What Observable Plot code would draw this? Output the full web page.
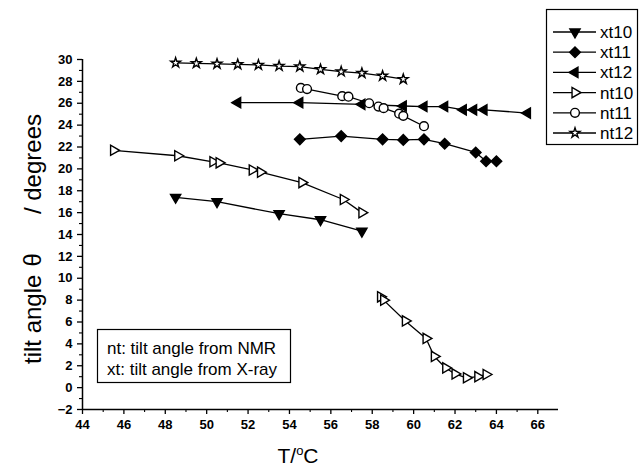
<!DOCTYPE html>
<html><head><meta charset="utf-8">
<script src="https://cdn.jsdelivr.net/npm/d3@7"></script>
<script src="https://cdn.jsdelivr.net/npm/@observablehq/plot@0.6"></script>
<style>body{margin:0;background:#fff} #chart{width:640px;height:470px}</style>
</head><body><div id="chart"></div>
<script>
// ---- data (T in °C, tilt angle in degrees) ----
const xt10_T = [48.5, 50.5, 53.5, 55.5, 57.5];
const xt10_A = [17.4, 17.0, 15.9, 15.35, 14.3];
const xt11_T = [54.5, 56.5, 58.5, 59.5, 60.5, 61.5, 63.0, 63.5, 64.0];
const xt11_A = [22.7, 23.0, 22.7, 22.65, 22.7, 22.3, 21.5, 20.7, 20.7];
const xt12_T = [51.5, 54.5, 57.5, 59.5, 60.5, 61.5, 62.4, 62.9, 63.4, 65.5];
const xt12_A = [26.05, 26.05, 25.9, 25.75, 25.7, 25.7, 25.4, 25.4, 25.4, 25.1];
const nt10_T = [45.5, 48.6, 50.3, 50.6, 52.2, 52.6, 54.6, 56.6, 57.5, 58.4, 58.55, 59.6, 60.6, 61.0, 61.55, 62.0, 62.55, 63.1, 63.5];
const nt10_A = [21.7, 21.2, 20.65, 20.55, 19.9, 19.7, 18.75, 17.2, 16.0, 8.3, 8.0, 6.1, 4.5, 2.85, 1.8, 1.25, 0.9, 1.0, 1.2];
const nt10_seg = [1,1,1,1,1,1,1,1,1,2,2,2,2,2,2,2,2,2,2];
const nt11_T = [54.55, 54.85, 56.55, 56.85, 57.85, 58.3, 58.55, 59.3, 59.5, 60.5];
const nt11_A = [27.4, 27.3, 26.65, 26.6, 26.0, 25.7, 25.55, 25.05, 24.85, 23.9];
const nt12_T = [48.5, 49.5, 50.5, 51.5, 52.5, 53.5, 54.5, 55.5, 56.5, 57.5, 58.5, 59.5];
const nt12_A = [29.7, 29.65, 29.6, 29.55, 29.5, 29.4, 29.35, 29.1, 28.9, 28.75, 28.5, 28.2];

const seriesNames = ["xt10", "xt11", "xt12", "nt10", "nt11", "nt12"];
const xTicks = d3.range(44, 67, 2);
const xMinor = d3.range(45, 67, 2);
const yTicks = d3.range(-2, 31, 2);
const yMinor = d3.range(-1, 30, 2);
const noteLines = ["nt: tilt angle from NMR", "xt: tilt angle from X-ray"];

const rows = (T, A, seg) => T.map((t, i) => ({T: t, A: A[i], seg: seg ? seg[i] : 1}));
const styles = {
  xt10: {symbol: "triangle", rotate: 180, r: 3.8, fill: "black"},
  xt11: {symbol: "diamond2", rotate: 0, r: 4.8, fill: "black"},
  xt12: {symbol: "triangle", rotate: -90, r: 3.8, fill: "black"},
  nt10: {symbol: "triangle", rotate: 90, r: 3.8, fill: "white"},
  nt11: {symbol: "circle", rotate: 0, r: 4.4, fill: "white"},
  nt12: {symbol: "star", rotate: 0, r: 3.1, fill: "white"}
};
const data = {
  xt10: rows(xt10_T, xt10_A), xt11: rows(xt11_T, xt11_A), xt12: rows(xt12_T, xt12_A),
  nt10: rows(nt10_T, nt10_A, nt10_seg), nt11: rows(nt11_T, nt11_A), nt12: rows(nt12_T, nt12_A)
};

const marks = [
  Plot.ruleX([44], {stroke: "black", strokeWidth: 1.5}),
  Plot.ruleY([-2], {stroke: "black", strokeWidth: 1.5}),
  Plot.axisX(xTicks, {tickSize: 5, tickPadding: 5, fontSize: 13, fontWeight: "bold", label: null, strokeWidth: 1.3}),
  Plot.axisX(xMinor, {tickSize: 3, tickFormat: () => "", label: null, strokeWidth: 1.1}),
  Plot.axisY(yTicks, {tickSize: 5, tickPadding: 5, fontSize: 13, fontWeight: "bold", label: null, strokeWidth: 1.3}),
  Plot.axisY(yMinor, {tickSize: 3, tickFormat: () => "", label: null, strokeWidth: 1.1})
];
for (const name of seriesNames) {
  const s = styles[name];
  marks.push(Plot.line(data[name], {x: "T", y: "A", z: "seg", stroke: "black", strokeWidth: 1.3}));
  marks.push(Plot.dot(data[name], {x: "T", y: "A", symbol: s.symbol, rotate: s.rotate, r: s.r, fill: s.fill, stroke: "black", strokeWidth: 1.4}));
}

const chart = Plot.plot({
  width: 640, height: 470,
  marginLeft: 82, marginRight: 82, marginTop: 59, marginBottom: 61,
  x: {domain: [44, 67]},
  y: {domain: [-2, 30]},
  style: {fontFamily: "'Liberation Sans', Arial, sans-serif", color: "black", background: "white"},
  marks
});
document.getElementById("chart").append(chart);

// ---- overlay: axis titles, note box, legend ----
const svg = d3.select(chart);
const ff = "'Liberation Sans', Arial, sans-serif";
const yl1 = svg.append("text").attr("transform", "translate(41,364) rotate(-90)")
  .attr("text-anchor", "start").attr("font-family", ff).attr("font-size", 24).attr("fill", "black");
yl1.append("tspan").text("tilt angle");
yl1.append("tspan").attr("dx", 8).text("θ");
svg.append("text").attr("transform", "translate(41,114) rotate(-90)")
  .attr("text-anchor", "end").attr("font-family", ff).attr("font-size", 24).attr("fill", "black")
  .text("/ degrees");

const xl = svg.append("text").attr("x", 298).attr("y", 463).attr("text-anchor", "middle")
  .attr("font-family", ff).attr("font-size", 21).attr("fill", "black");
xl.append("tspan").text("T/");
xl.append("tspan").attr("font-size", 13).attr("dy", -8).text("o");
xl.append("tspan").attr("dy", 8).text("C");

const note = svg.append("g");
note.append("rect").attr("x", 97.5).attr("y", 329.5).attr("width", 193).attr("height", 53)
  .attr("fill", "white").attr("stroke", "black").attr("stroke-width", 1.2);
noteLines.forEach((t, i) => note.append("text").attr("x", 107).attr("y", 354 + i * 21)
  .attr("text-anchor", "start").attr("font-family", ff).attr("font-size", 17).attr("fill", "black").text(t));

const lg = svg.append("g");
lg.append("rect").attr("x", 546.5).attr("y", 9.5).attr("width", 91).attr("height", 135)
  .attr("fill", "white").attr("stroke", "black").attr("stroke-width", 1.2);
const symMap = {triangle: d3.symbolTriangle, diamond2: d3.symbolDiamond2, circle: d3.symbolCircle, star: d3.symbolStar};
seriesNames.forEach((name, i) => {
  const s = styles[name];
  const y = 32 + i * 20.2;
  lg.append("line").attr("x1", 553).attr("x2", 596).attr("y1", y).attr("y2", y).attr("stroke", "black").attr("stroke-width", 1.3);
  lg.append("path").attr("d", d3.symbol(symMap[s.symbol], Math.PI * s.r * s.r)())
    .attr("transform", `translate(575,${y}) rotate(${s.rotate})`)
    .attr("fill", s.fill).attr("stroke", "black").attr("stroke-width", 1.4);
  lg.append("text").attr("x", 600).attr("y", y + 6).attr("text-anchor", "start")
    .attr("font-family", ff).attr("font-size", 17).attr("fill", "black").text(name);
});
</script>
</body></html>
